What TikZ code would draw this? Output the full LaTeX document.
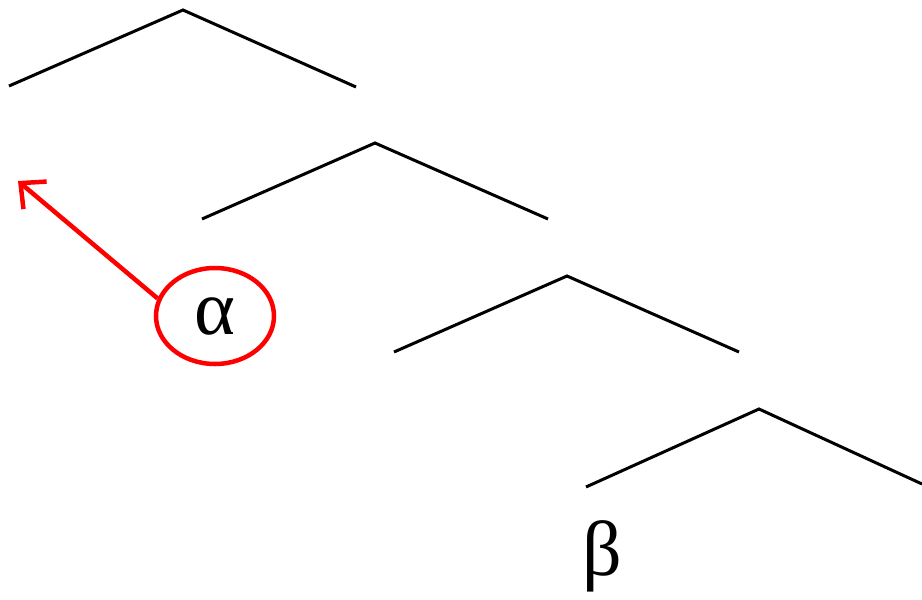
\documentclass[tikz,border=0pt]{standalone}
\usepackage{fontspec}
\setmainfont{Liberation Serif}
\usetikzlibrary{shapes.geometric, arrows.meta}

\begin{document}
\begin{tikzpicture}[
  x = 1pt, y = -1pt,
  every node/.style = {inner sep=0pt, font=\fontsize{78}{78}\selectfont},
  roof/.style       = {draw, line width=3pt},
  callout/.style    = {draw=red, line width=4.5pt, ellipse,
                       minimum width=118pt, minimum height=96pt},
  pointer/.style    = {draw=red, line width=4.5pt,
                       -{Straight Barb[length=19pt, width=36pt]}},
]
\useasboundingbox (0,0) rectangle (922,600);

% roofs
\coordinate (l1) at (  9, 86); \coordinate (t1) at (183, 10); \coordinate (r1) at (356, 87);
\coordinate (l2) at (202,219); \coordinate (t2) at (375,143); \coordinate (r2) at (548,219);
\coordinate (l3) at (394,352); \coordinate (t3) at (567,276); \coordinate (r3) at (739,352);
\coordinate (l4) at (586,487); \coordinate (t4) at (759,409); \coordinate (r4) at (922,484);

\foreach \k in {1,...,4}
  \draw[roof] (l\k) -- (t\k) -- (r\k);

% labels
\node[callout] (alpha) at (215,316) {α};
\node          (beta)  at (602,556) {β};
\coordinate    (tip)   at ( 18,181);

\draw[pointer] (alpha.163) -- (tip);

\end{tikzpicture}
\end{document}
